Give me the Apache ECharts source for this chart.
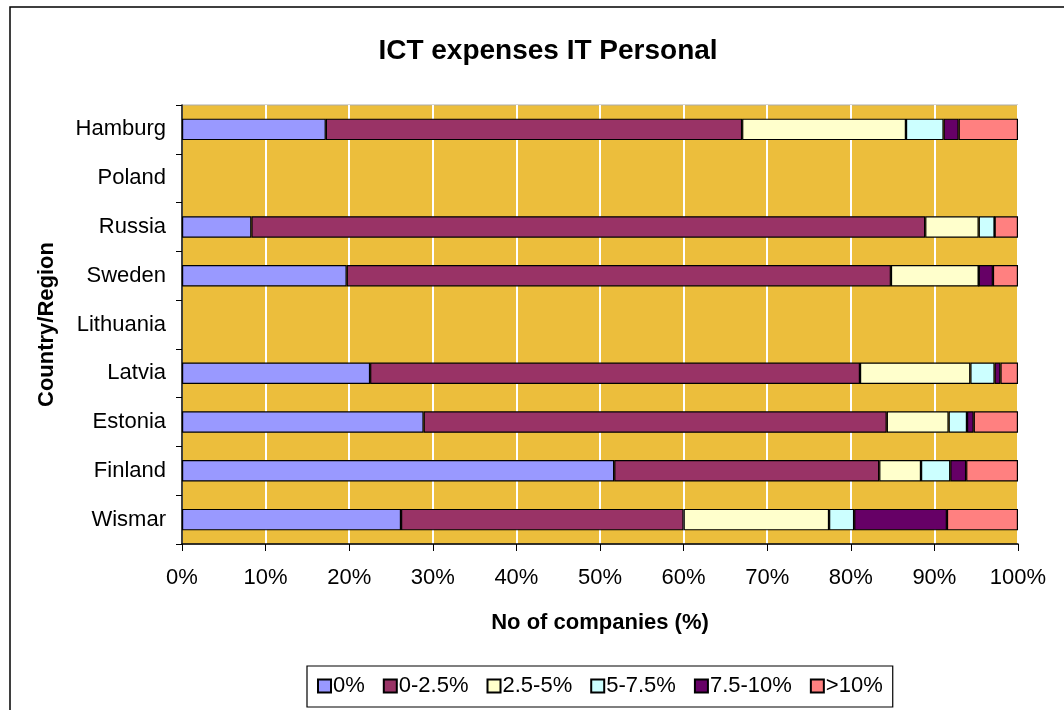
<!DOCTYPE html>
<html>
<head>
<meta charset="utf-8">
<title>ICT expenses IT Personal</title>
<script src="https://cdn.jsdelivr.net/npm/echarts@6/dist/echarts.min.js"></script>
<style>
  html, body { margin: 0; padding: 0; background: #fff; }
  #chart { width: 1064px; height: 710px; }
</style>
</head>
<body>
<div id="chart"></div>
<script>
// regions, top to bottom
const regions = ['Hamburg', 'Poland', 'Russia', 'Sweden', 'Lithuania', 'Latvia', 'Estonia', 'Finland', 'Wismar']

// share of companies (%) per expense class
const pct0 = [17.2, null, 8.3, 19.7, null, 22.5, 28.9, 51.7, 26.2]
const pct0to25 = [49.8, null, 80.6, 65.1, null, 58.6, 55.4, 31.7, 33.8]
const pct25to5 = [19.6, null, 6.4, 10.5, null, 13.2, 7.4, 5.0, 17.4]
const pct5to75 = [4.5, null, 1.9, 0, null, 2.9, 2.2, 3.5, 3.0]
const pct75to10 = [1.8, null, 0, 1.7, null, 0.7, 0.8, 1.9, 11.1]
const pctOver10 = [7.1, null, 2.8, 3.0, null, 2.1, 5.3, 6.2, 8.5]

const seriesNames = ['0%', '0-2.5%', '2.5-5%', '5-7.5%', '7.5-10%', '>10%']
const seriesData = [pct0, pct0to25, pct25to5, pct5to75, pct75to10, pctOver10]
const colors = ['#9999FF', '#993366', '#FFFFCC', '#CCFFFF', '#660066', '#FF8080']

const font = 'Liberation Sans, Arial, sans-serif'

const myChart = echarts.init(document.getElementById('chart'), null, { renderer: 'canvas' })

const option = {
  animation: false,
  textStyle: { fontFamily: font },
  title: {
    text: 'ICT expenses IT Personal',
    left: 543,
    top: 32,
    textAlign: 'center',
    textStyle: { fontSize: 28, fontWeight: 'bold', color: '#000', fontFamily: font }
  },
  graphic: [{
    type: 'rect',
    shape: { x: 10, y: 7, width: 1100, height: 800 },
    style: { fill: 'none', stroke: '#000', lineWidth: 1.5 },
    silent: true
  }],
  legend: {
    data: seriesNames,
    left: 307,
    top: 666,
    orient: 'horizontal',
    icon: 'rect',
    itemWidth: 13,
    itemHeight: 13,
    itemGap: 18,
    padding: [9, 10, 10, 10],
    borderColor: '#000',
    borderWidth: 1.2,
    backgroundColor: '#fff',
    textStyle: { fontSize: 22, color: '#000', padding: [0, 0, 0, -3] }
  },
  grid: {
    left: 182,
    right: 46,
    top: 105,
    bottom: 166,
    show: true,
    backgroundColor: '#ECBE3C',
    borderColor: '#aaa',
    borderWidth: 1
  },
  xAxis: {
    type: 'value',
    min: 0,
    max: 100,
    interval: 10,
    name: 'No of companies (%)',
    nameLocation: 'middle',
    nameGap: 68,
    nameTextStyle: { fontSize: 22, fontWeight: 'bold', color: '#000' },
    axisLine: { show: true, lineStyle: { color: '#000', width: 1.5 } },
    axisTick: { show: true, length: 7, lineStyle: { color: '#000' } },
    axisLabel: { formatter: '{value}%', fontSize: 22, color: '#000', margin: 23 },
    splitLine: { show: true, lineStyle: { color: '#fff', width: 2 } }
  },
  yAxis: {
    type: 'category',
    data: regions,
    inverse: true,
    name: 'Country/Region',
    nameLocation: 'middle',
    nameGap: 124,
    nameRotate: 90,
    nameTextStyle: { fontSize: 22, fontWeight: 'bold', color: '#000' },
    axisLine: { show: true, lineStyle: { color: '#000', width: 1.5 } },
    axisTick: { show: true, length: 6, lineStyle: { color: '#000' } },
    axisLabel: { fontSize: 22, color: '#000', margin: 16 },
    splitLine: { show: false }
  },
  series: seriesNames.map((name, i) => ({
    name: name,
    type: 'bar',
    stack: 'total',
    barWidth: '44%',
    data: seriesData[i],
    itemStyle: { color: colors[i], borderColor: '#000', borderWidth: 1.2 }
  }))
}

myChart.setOption(option)
</script>
</body>
</html>
